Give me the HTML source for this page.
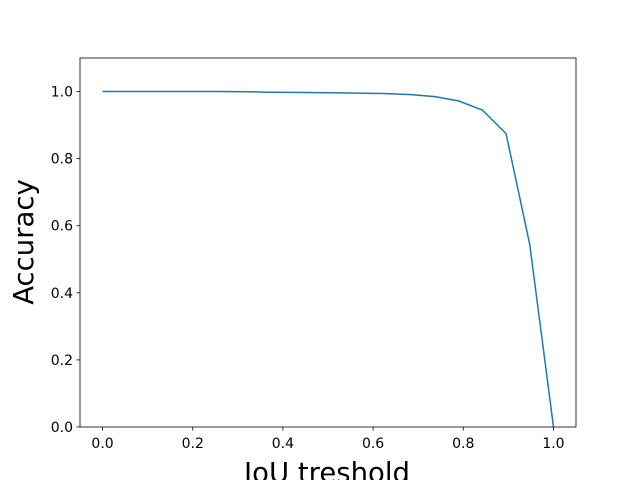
<!DOCTYPE html>
<html><head><meta charset="utf-8"><style>body{margin:0;background:#fff}svg{display:block;font-family:"DejaVu Sans","Liberation Sans",sans-serif}</style></head>
<body>
<svg id="chart" width="640" height="480">
<rect x="0" y="0" width="640" height="480" fill="#fff"/>
<g id="grid"></g>
<path id="line" fill="none" stroke="#1f77b4" stroke-width="1.5"/>
<rect x="80" y="58" width="496" height="369" fill="none" stroke="#000" stroke-width="0.8"/>
<text x="33" y="242" font-size="27.5" text-anchor="middle" transform="rotate(-90 33 242)" fill="#000">Accuracy</text>
<text x="327" y="482" font-size="27.5" text-anchor="middle" fill="#000">IoU treshold</text>
</svg>
<script>
const xValues=[0,0.0526,0.1053,0.1579,0.2105,0.2632,0.3158,0.3684,0.4211,0.4737,0.5263,0.5789,0.6316,0.6842,0.7368,0.7895,0.8421,0.8947,0.9474,1.0];
const accuracy=[1,1,1,1,1,1,0.9995,0.998,0.9975,0.997,0.996,0.995,0.994,0.991,0.985,0.972,0.945,0.875,0.545,0];
const xTicks=[0,0.2,0.4,0.6,0.8,1.0];
const yTicks=[0,0.2,0.4,0.6,0.8,1.0];
const L=80,R=576,T=58,B=427,xmin=-0.05,xmax=1.05,ymin=0,ymax=1.1;
const sx=v=>L+(v-xmin)/(xmax-xmin)*(R-L);
const sy=v=>B-(v-ymin)/(ymax-ymin)*(B-T);
const ns="http://www.w3.org/2000/svg";
const g=document.getElementById('grid');
function mk(tag,attrs,parent){const e=document.createElementNS(ns,tag);for(const k in attrs)e.setAttribute(k,attrs[k]);parent.appendChild(e);return e;}
xTicks.forEach(t=>{
 const l=mk('line',{x1:sx(t),x2:sx(t),y1:B,y2:B+3.5,stroke:'#000','stroke-width':0.8},g);
 
 
 const tx=mk('text',{x:sx(t),y:B+21,'font-size':14,'text-anchor':'middle'},g);
 tx.textContent=t.toFixed(1);
 
 
});
yTicks.forEach(t=>{
 const l=mk('line',{x1:L-3.5,x2:L,y1:sy(t),y2:sy(t),stroke:'#000','stroke-width':0.8},g);
 
 
 const tx=mk('text',{x:L-7,y:sy(t)+5,'font-size':14,'text-anchor':'end'},g);
 tx.textContent=t.toFixed(1);
 
 
});
document.getElementById('line').setAttribute('d',xValues.map((x,i)=>(i?'L':'M')+sx(x).toFixed(1)+','+sy(accuracy[i]).toFixed(1)).join(' '));
</script>
</body></html>
